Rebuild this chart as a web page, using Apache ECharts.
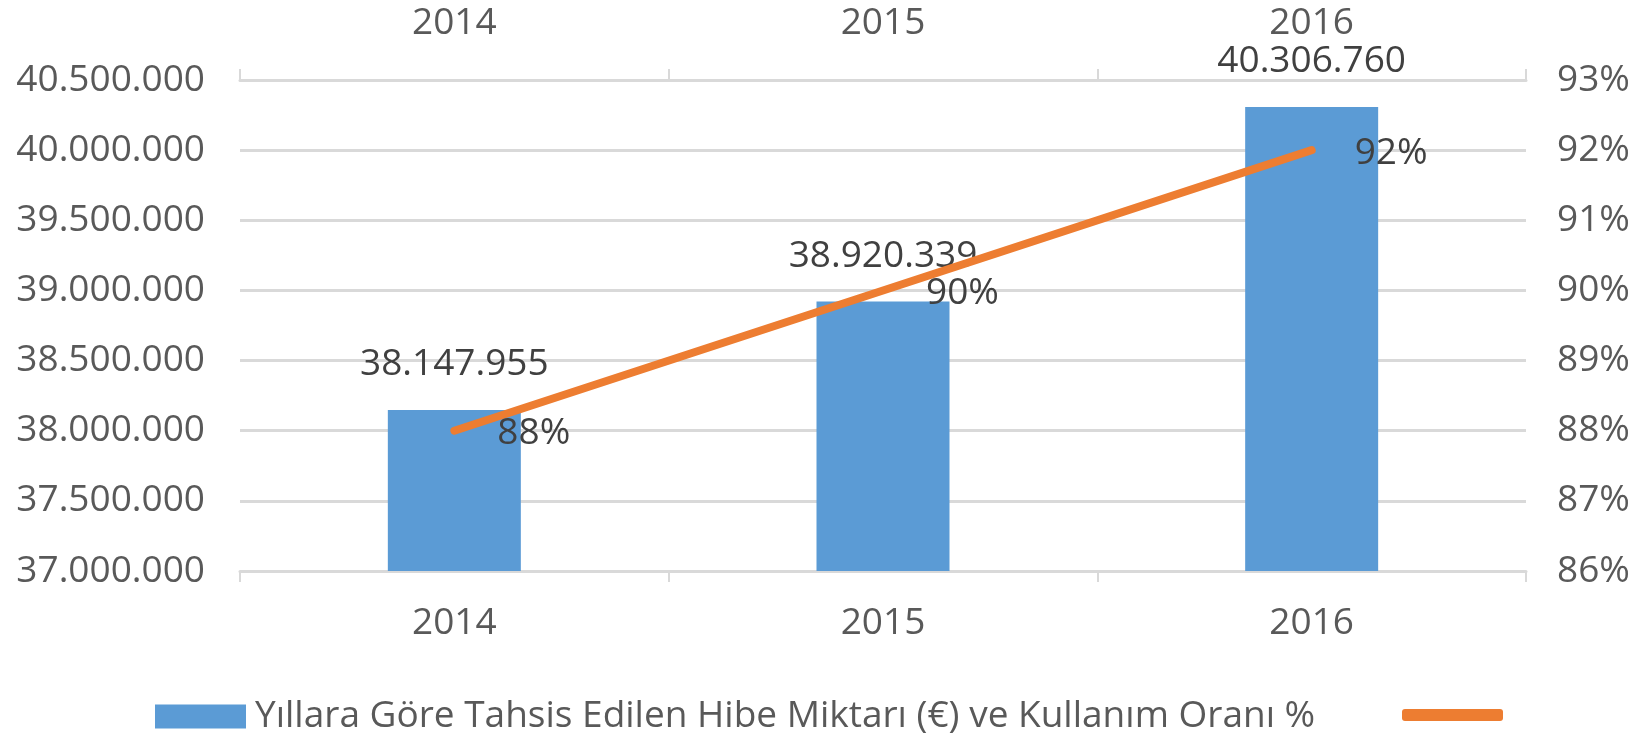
<!DOCTYPE html>
<html>
<head>
<meta charset="utf-8">
<script src="https://cdn.jsdelivr.net/npm/echarts@6/dist/echarts.min.js"></script>
<style>
html,body{margin:0;padding:0;background:#fff;}
#chart{width:1650px;height:734px;}
</style>
</head>
<body>
<div id="chart"></div>
<script>
const categories = ['2014', '2015', '2016'];
const grantAmounts = [38147955, 38920339, 40306760];
const usageRates = [88, 90, 92];
const barName = 'Yıllara Göre Tahsis Edilen Hibe Miktarı (€) ve Kullanım Oranı %';
const lineName = ' ';

const FONT = '"Open Sans", Lato, sans-serif';
const TXT = '#595959';
const FS = 37;

function dotted(v) {
  return String(Math.round(v)).replace(/\B(?=(\d{3})+(?!\d))/g, '.');
}

const chart = echarts.init(document.getElementById('chart'));
chart.setOption({
  animation: false,
  textStyle: { fontFamily: FONT },
  grid: { left: 240, right: 124, top: 80, bottom: 163 },
  legend: [
    {
      data: [barName],
      left: 150, top: 693, padding: 5,
      itemWidth: 91, itemHeight: 24,
      icon: 'rect',
      textStyle: { fontFamily: FONT, fontSize: 37, color: TXT, padding: [0, 0, 0, 4] }
    },
    {
      data: [lineName],
      left: 1397, top: 704, padding: 5,
      itemWidth: 101, itemHeight: 12,
      icon: 'roundRect',
      textStyle: { fontFamily: FONT, fontSize: 8, color: TXT }
    }
  ],
  xAxis: [
    {
      type: 'category', data: categories, position: 'bottom',
      axisLine: { lineStyle: { color: '#d9d9d9', width: 3 } },
      axisTick: { show: true, length: 11, lineStyle: { color: '#d9d9d9', width: 2 } },
      axisLabel: { fontSize: FS, color: TXT, margin: 34, fontFamily: FONT }
    },
    {
      type: 'category', data: categories, position: 'top',
      axisLine: { lineStyle: { color: '#d9d9d9', width: 3 } },
      axisTick: { show: true, length: 11, lineStyle: { color: '#d9d9d9', width: 2 } },
      axisLabel: { fontSize: FS, color: TXT, margin: 38, fontFamily: FONT }
    }
  ],
  yAxis: [
    {
      type: 'value', min: 37000000, max: 40500000, interval: 500000,
      axisLine: { show: false }, axisTick: { show: false },
      splitLine: { lineStyle: { color: '#d9d9d9', width: 3 } },
      axisLabel: { fontSize: FS, color: TXT, margin: 35, fontFamily: FONT, formatter: dotted }
    },
    {
      type: 'value', min: 86, max: 93, interval: 1, position: 'right',
      axisLine: { show: false }, axisTick: { show: false },
      splitLine: { show: false },
      axisLabel: { fontSize: FS, color: TXT, margin: 31, fontFamily: FONT, formatter: '{value}%' }
    }
  ],
  series: [
    {
      name: barName, type: 'bar', data: grantAmounts,
      xAxisIndex: 0, yAxisIndex: 0,
      barWidth: 133,
      itemStyle: { color: '#5b9bd5' },
      label: {
        show: true, position: 'top', distance: 27,
        fontSize: FS, color: '#404040', fontFamily: FONT,
        formatter: p => dotted(p.value)
      }
    },
    {
      name: lineName, type: 'line', data: usageRates,
      xAxisIndex: 0, yAxisIndex: 1,
      symbol: 'circle', symbolSize: 0, showSymbol: true,
      lineStyle: { color: '#ed7d31', width: 8, cap: 'round' },
      itemStyle: { color: '#ed7d31' },
      z: 5,
      label: {
        show: true, position: 'right', distance: 43, offset: [0, 3],
        fontSize: FS, color: '#404040', fontFamily: FONT,
        formatter: '{c}%'
      }
    }
  ]
});
</script>
</body>
</html>
